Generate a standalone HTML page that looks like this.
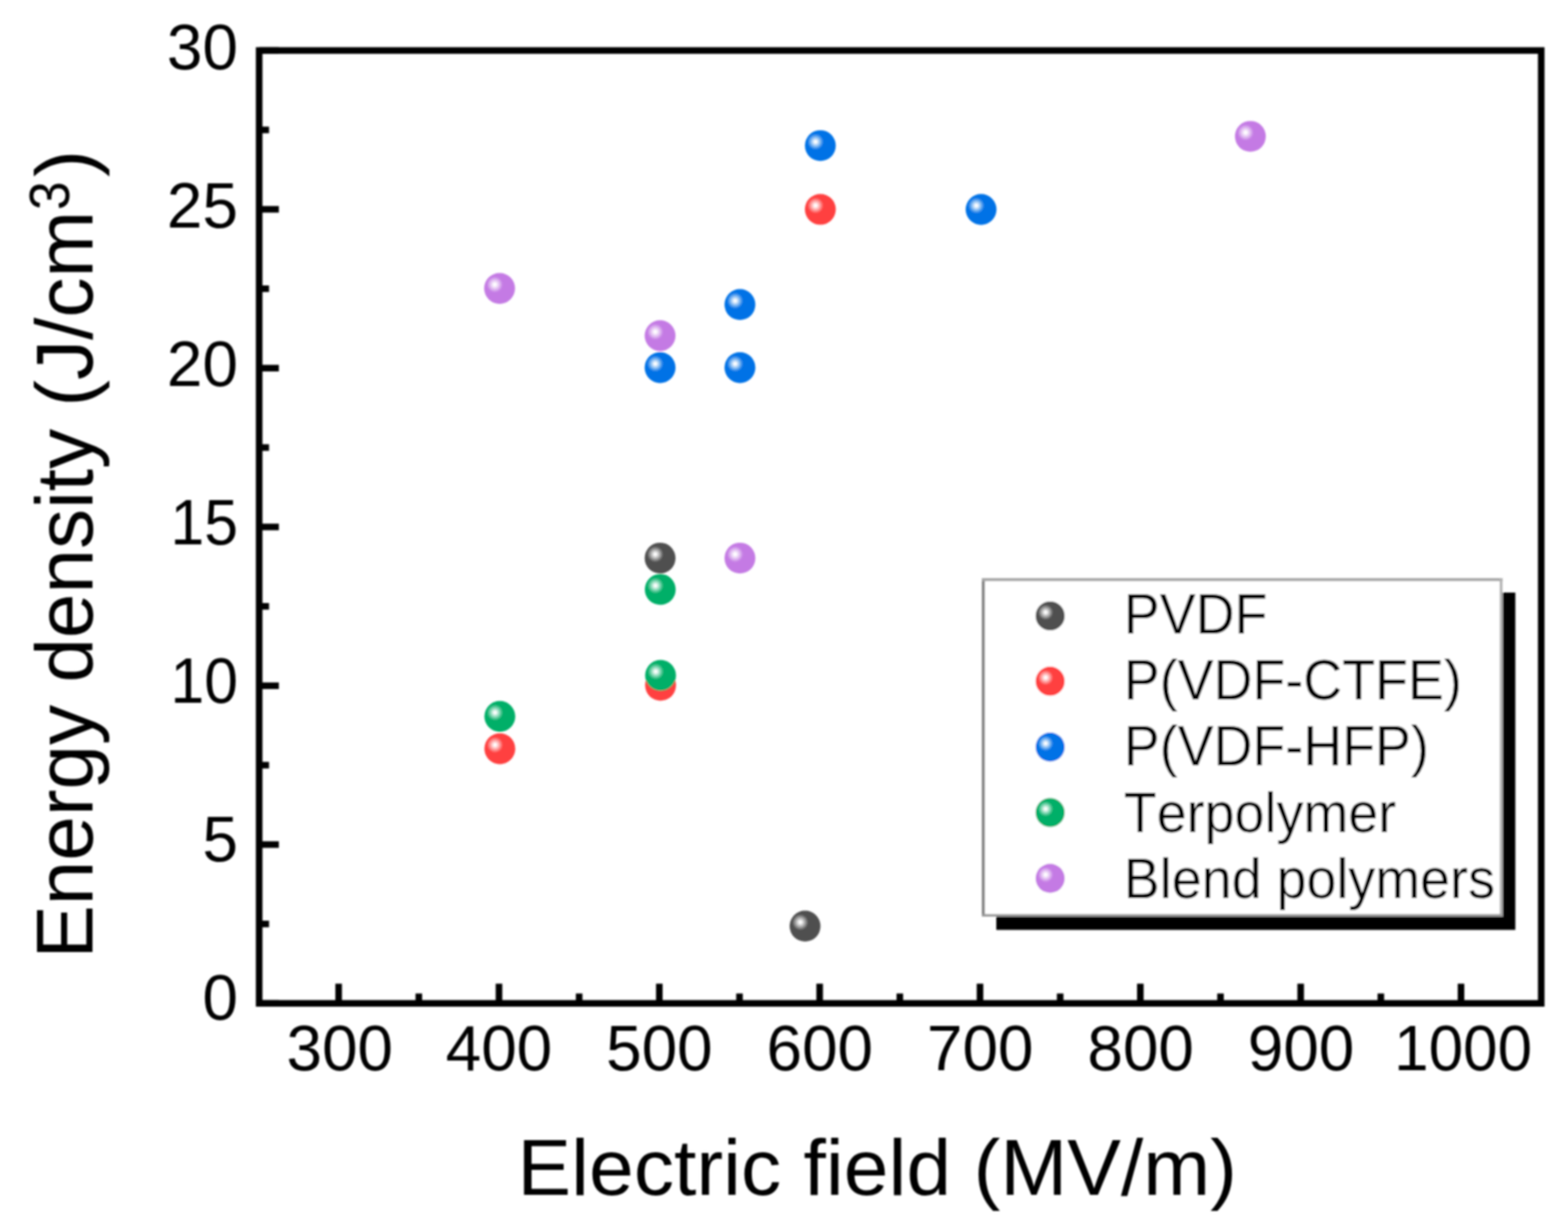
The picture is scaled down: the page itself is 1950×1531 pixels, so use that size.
<!DOCTYPE html>
<html><head><meta charset="utf-8"><title>Energy density vs Electric field</title>
<style>
html,body{margin:0;padding:0;background:#fff;}
body{width:1950px;height:1531px;overflow:hidden;position:relative;}
svg{position:absolute;left:0;top:0;display:block;}
text{font-family:"Liberation Sans",Arial,sans-serif;fill:#000;font-kerning:none;}
</style></head><body>
<svg width="1950" height="1531" viewBox="0 0 1950 1531">
<defs>
<radialGradient id="g_gray" cx="0.345" cy="0.375" r="0.26" fx="0.345" fy="0.375"><stop offset="0" stop-color="#ffffff"/><stop offset="0.12" stop-color="#ffffff"/><stop offset="0.7" stop-color="#8e8e8e"/><stop offset="1" stop-color="#4f4f4f"/></radialGradient>
<radialGradient id="g_red" cx="0.345" cy="0.375" r="0.26" fx="0.345" fy="0.375"><stop offset="0" stop-color="#ffffff"/><stop offset="0.12" stop-color="#ffffff"/><stop offset="0.7" stop-color="#ff8585"/><stop offset="1" stop-color="#ff4040"/></radialGradient>
<radialGradient id="g_blue" cx="0.345" cy="0.375" r="0.26" fx="0.345" fy="0.375"><stop offset="0" stop-color="#ffffff"/><stop offset="0.12" stop-color="#ffffff"/><stop offset="0.7" stop-color="#5ca5ef"/><stop offset="1" stop-color="#0072e6"/></radialGradient>
<radialGradient id="g_green" cx="0.345" cy="0.375" r="0.26" fx="0.345" fy="0.375"><stop offset="0" stop-color="#ffffff"/><stop offset="0.12" stop-color="#ffffff"/><stop offset="0.7" stop-color="#5ccc9e"/><stop offset="1" stop-color="#00af68"/></radialGradient>
<radialGradient id="g_purple" cx="0.345" cy="0.375" r="0.26" fx="0.345" fy="0.375"><stop offset="0" stop-color="#ffffff"/><stop offset="0.12" stop-color="#ffffff"/><stop offset="0.7" stop-color="#d9aaee"/><stop offset="1" stop-color="#c47ae4"/></radialGradient>
<filter id="soft" filterUnits="userSpaceOnUse" x="0" y="0" width="1950" height="1531"><feGaussianBlur stdDeviation="0.8"/></filter>
</defs>
<rect width="1950" height="1531" fill="#fff"/>
<g filter="url(#soft)">
<g stroke="#000" stroke-width="8.2" stroke-linecap="butt"><line x1="421.15" y1="1247.90" x2="421.15" y2="1223.40"/><line x1="620.55" y1="1247.90" x2="620.55" y2="1223.40"/><line x1="819.95" y1="1247.90" x2="819.95" y2="1223.40"/><line x1="1019.35" y1="1247.90" x2="1019.35" y2="1223.40"/><line x1="1218.75" y1="1247.90" x2="1218.75" y2="1223.40"/><line x1="1418.15" y1="1247.90" x2="1418.15" y2="1223.40"/><line x1="1617.55" y1="1247.90" x2="1617.55" y2="1223.40"/><line x1="1816.95" y1="1247.90" x2="1816.95" y2="1223.40"/><line x1="520.85" y1="1247.90" x2="520.85" y2="1235.60"/><line x1="720.25" y1="1247.90" x2="720.25" y2="1235.60"/><line x1="919.65" y1="1247.90" x2="919.65" y2="1235.60"/><line x1="1119.05" y1="1247.90" x2="1119.05" y2="1235.60"/><line x1="1318.45" y1="1247.90" x2="1318.45" y2="1235.60"/><line x1="1517.85" y1="1247.90" x2="1517.85" y2="1235.60"/><line x1="1717.25" y1="1247.90" x2="1717.25" y2="1235.60"/><line x1="322.30" y1="1247.90" x2="346.80" y2="1247.90"/><line x1="322.30" y1="1050.39" x2="346.80" y2="1050.39"/><line x1="322.30" y1="852.87" x2="346.80" y2="852.87"/><line x1="322.30" y1="655.36" x2="346.80" y2="655.36"/><line x1="322.30" y1="457.84" x2="346.80" y2="457.84"/><line x1="322.30" y1="260.33" x2="346.80" y2="260.33"/><line x1="322.30" y1="62.81" x2="346.80" y2="62.81"/><line x1="322.30" y1="1149.14" x2="334.60" y2="1149.14"/><line x1="322.30" y1="951.63" x2="334.60" y2="951.63"/><line x1="322.30" y1="754.11" x2="334.60" y2="754.11"/><line x1="322.30" y1="556.60" x2="334.60" y2="556.60"/><line x1="322.30" y1="359.08" x2="334.60" y2="359.08"/><line x1="322.30" y1="161.57" x2="334.60" y2="161.57"/></g>
<rect x="322.30" y="62.80" width="1594.40" height="1185.10" fill="none" stroke="#000" stroke-width="8.2"/>
<g font-size="79.5"><text transform="translate(422.50,1331.2) scale(1.0,1.0)" text-anchor="middle">300</text><text transform="translate(620.50,1331.2) scale(1.0,1.0)" text-anchor="middle">400</text><text transform="translate(820.00,1331.2) scale(1.0,1.0)" text-anchor="middle">500</text><text transform="translate(1019.50,1331.2) scale(1.0,1.0)" text-anchor="middle">600</text><text transform="translate(1219.00,1331.2) scale(1.0,1.0)" text-anchor="middle">700</text><text transform="translate(1418.50,1331.2) scale(1.0,1.0)" text-anchor="middle">800</text><text transform="translate(1618.00,1331.2) scale(1.0,1.0)" text-anchor="middle">900</text><text transform="translate(1819.60,1331.2) scale(0.97,1.0)" text-anchor="middle">1000</text><text transform="translate(296,1268.30) scale(1.0,1.0)" text-anchor="end">0</text><text transform="translate(296,1071.25) scale(1.0,1.0)" text-anchor="end">5</text><text transform="translate(296,874.20) scale(0.95,1.0)" text-anchor="end">10</text><text transform="translate(296,677.15) scale(0.95,1.0)" text-anchor="end">15</text><text transform="translate(296,480.10) scale(1.0,1.0)" text-anchor="end">20</text><text transform="translate(296,283.05) scale(1.0,1.0)" text-anchor="end">25</text><text transform="translate(296,86.00) scale(1.0,1.0)" text-anchor="end">30</text></g>
<text transform="translate(651.5,1485.8) scale(1.0157,1)" x="-7.8" y="0" font-size="98.5">Electric field (MV/m)</text>
<text transform="translate(115,1184.5) rotate(-90) scale(0.9914,1)" x="-7.9" y="0" font-size="100.5">Energy density (J/cm</text>
<text transform="translate(85.5,261.3) rotate(-90) scale(0.91,1)" font-size="70.5">3</text>
<text transform="translate(115,220) rotate(-90)" font-size="100.5">)</text>
<circle cx="820.90" cy="694.10" r="19.2" fill="url(#g_gray)"/><circle cx="1001.20" cy="1151.80" r="19.2" fill="url(#g_gray)"/>
<circle cx="621.60" cy="931.20" r="19.2" fill="url(#g_red)"/><circle cx="821.50" cy="852.30" r="19.2" fill="url(#g_red)"/><circle cx="1020.20" cy="260.40" r="19.2" fill="url(#g_red)"/>
<circle cx="820.90" cy="457.20" r="19.2" fill="url(#g_blue)"/><circle cx="920.20" cy="457.20" r="19.2" fill="url(#g_blue)"/><circle cx="920.20" cy="378.80" r="19.2" fill="url(#g_blue)"/><circle cx="1020.20" cy="181.10" r="19.2" fill="url(#g_blue)"/><circle cx="1220.10" cy="260.50" r="19.2" fill="url(#g_blue)"/>
<circle cx="621.60" cy="891.00" r="19.2" fill="url(#g_green)"/><circle cx="821.10" cy="733.10" r="19.2" fill="url(#g_green)"/><circle cx="821.50" cy="840.00" r="19.2" fill="url(#g_green)"/>
<circle cx="621.30" cy="358.70" r="19.2" fill="url(#g_purple)"/><circle cx="820.90" cy="417.50" r="19.2" fill="url(#g_purple)"/><circle cx="920.20" cy="694.10" r="19.2" fill="url(#g_purple)"/><circle cx="1555.00" cy="169.60" r="19.2" fill="url(#g_purple)"/>
<rect x="1239" y="737" width="645.5" height="419.5" fill="#000"/>
<rect x="1221" y="719" width="647.5" height="421" fill="#fff"/>
<rect x="1221" y="719" width="3.8" height="421" fill="#858585"/><rect x="1221" y="719" width="647.5" height="3.8" fill="#a8a8a8"/><rect x="1865" y="719" width="3.5" height="421" fill="#b2b2b2"/><rect x="1221" y="1136.8" width="647.5" height="3.2" fill="#9a9a9a"/>
<circle cx="1306" cy="766.00" r="18.1" fill="url(#g_gray)"/><text transform="translate(1397.6,788.10) scale(0.985,1.04)" font-size="68">PVDF</text>
<circle cx="1306" cy="847.20" r="18.1" fill="url(#g_red)"/><text transform="translate(1397.6,870.25) scale(0.985,1.04)" font-size="68">P(VDF-CTFE)</text>
<circle cx="1306" cy="929.10" r="18.1" fill="url(#g_blue)"/><text transform="translate(1397.6,952.40) scale(0.985,1.04)" font-size="68">P(VDF-HFP)</text>
<circle cx="1306" cy="1010.50" r="18.1" fill="url(#g_green)"/><text transform="translate(1397.6,1034.55) scale(0.985,1.04)" font-size="68">Terpolymer</text>
<circle cx="1306" cy="1092.40" r="18.1" fill="url(#g_purple)"/><text transform="translate(1397.6,1116.70) scale(0.985,1.04)" font-size="68">Blend polymers</text>
</g>
</svg>
</body></html>
